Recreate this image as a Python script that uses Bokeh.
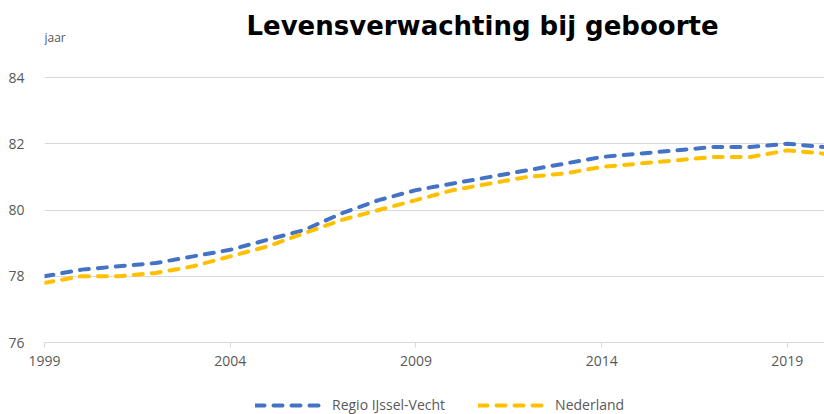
from bokeh.plotting import figure
from bokeh.layouts import column
from bokeh.models import FixedTicker, Label, Legend, LegendItem, Range1d
from bokeh.embed import file_html
from bokeh.resources import INLINE

years = list(range(1999, 2021))
regio = [78.0, 78.2, 78.3, 78.4, 78.6, 78.8, 79.1, 79.4, 79.9, 80.3, 80.6,
         80.8, 81.0, 81.2, 81.4, 81.6, 81.7, 81.8, 81.9, 81.9, 82.0, 81.9]
nederland = [77.8, 78.0, 78.0, 78.1, 78.3, 78.6, 78.9, 79.3, 79.7, 80.0, 80.3,
             80.6, 80.8, 81.0, 81.1, 81.3, 81.4, 81.5, 81.6, 81.6, 81.8, 81.7]
x_ticks = [1999, 2004, 2009, 2014, 2019]
y_ticks = [76, 78, 80, 82, 84]
title_text = "Levensverwachting bij geboorte"
y_unit = "jaar"
names = ["Regio IJssel-Vecht", "Nederland"]
colors = ["#4472C4", "#FFC000"]

GRAY = "#595959"
GRID = "#d9d9d9"
W = 824
MAIN_H = 390
LEG_H = 24

# frame: x 44..824, y 0..342 ; 84 gridline at y=77, 76 at y=342
px_per_unit = (342 - 77) / 8.0
y_top = 84 + 77 / px_per_unit

p = figure(width=W, height=MAIN_H, output_backend="svg", toolbar_location=None,
           x_range=Range1d(1999, 2020), y_range=Range1d(76, y_top),
           min_border_left=44, min_border_right=0, min_border_top=0,
           min_border_bottom=MAIN_H - 342)
p.outline_line_color = None
p.background_fill_color = "white"
p.border_fill_color = "white"

style = dict(line_width=4, line_dash="9 9", line_cap="round")
p.line(years, regio, line_color=colors[0], **style)
p.line(years, nederland, line_color=colors[1], **style)

p.xgrid.grid_line_color = None
p.ygrid.grid_line_color = GRID
p.ygrid.grid_line_width = 1
p.ygrid.ticker = FixedTicker(ticks=y_ticks)

p.xaxis.ticker = FixedTicker(ticks=x_ticks)
p.xaxis.axis_line_color = GRID
p.xaxis.major_tick_line_color = GRID
p.xaxis.major_tick_out = 5
p.xaxis.major_tick_in = 0
p.xaxis.minor_tick_line_color = None
p.xaxis.major_label_text_color = GRAY
p.xaxis.major_label_text_font = "Open Sans"
p.xaxis.major_label_text_font_size = "14px"
p.xaxis.major_label_standoff = 8

p.yaxis.ticker = FixedTicker(ticks=y_ticks)
p.yaxis.axis_line_color = None
p.yaxis.major_tick_line_color = None
p.yaxis.minor_tick_line_color = None
p.yaxis.major_label_text_color = GRAY
p.yaxis.major_label_text_font = "Open Sans"
p.yaxis.major_label_text_font_size = "14px"
p.yaxis.major_label_standoff = 14

title_y = 84 + (77 - 25) / px_per_unit
p.add_layout(Label(x=1999 + (482 - 44) / (780 / 21), y=title_y, text=title_text,
                   text_align="center", text_baseline="alphabetic",
                   text_font="DejaVu Sans", text_font_style="bold",
                   text_font_size="26px", text_color="black"))
p.add_layout(Label(x=1999, y=84 + (77 - 37) / px_per_unit, text=y_unit,
                   text_align="left", text_baseline="middle",
                   text_font="Open Sans", text_font_size="12px",
                   text_color=GRAY))

# legend strip below (its lines hold the same data, kept outside its view)
lg = figure(width=W, height=LEG_H, output_backend="svg", toolbar_location=None,
            x_range=Range1d(0, 1), y_range=Range1d(0, 1),
            min_border_left=0, min_border_right=0, min_border_top=0,
            min_border_bottom=0)
lg.axis.visible = False
lg.grid.grid_line_color = None
lg.outline_line_color = None
lg.background_fill_color = "white"
lg.border_fill_color = "white"
d1 = lg.line(years, regio, line_color=colors[0], **style)
d2 = lg.line(years, nederland, line_color=colors[1], **style)
legend = Legend(items=[LegendItem(label=names[0], renderers=[d1]),
                       LegendItem(label=names[1], renderers=[d2])],
                orientation="horizontal", location=(211, 0),
                glyph_width=67, glyph_height=14, label_height=16,
                spacing=33, label_standoff=10,
                label_text_font="Open Sans", label_text_font_size="14px",
                label_text_color=GRAY, border_line_color=None,
                background_fill_alpha=0, padding=0, margin=0)
lg.add_layout(legend, "center")

layout = column(p, lg, spacing=0)
open("out.html", "w").write(file_html(layout, INLINE))
